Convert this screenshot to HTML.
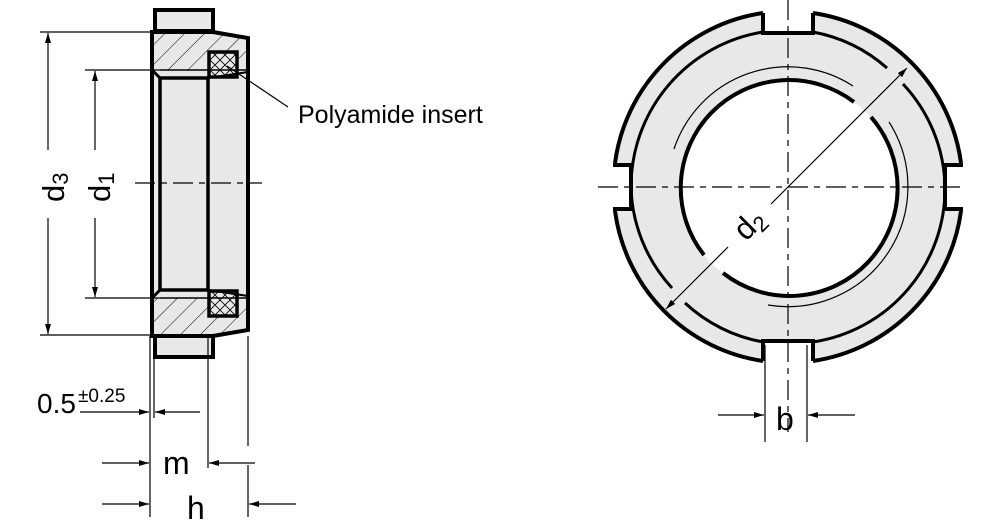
<!DOCTYPE html>
<html><head><meta charset="utf-8"><style>
html,body{margin:0;padding:0;background:#fff;}
svg{display:block;}
text{font-family:"Liberation Sans",Arial,sans-serif;fill:#000;}
</style></head><body>
<svg width="1002" height="530" viewBox="0 0 1002 530" xmlns="http://www.w3.org/2000/svg">
<defs>
<pattern id="h" patternUnits="userSpaceOnUse" width="14" height="14" patternTransform="rotate(45)">
<rect width="14" height="14" fill="#e8e8e8"/><line x1="0" y1="0" x2="0" y2="14" stroke="#000" stroke-width="1"/></pattern>
<pattern id="x" patternUnits="userSpaceOnUse" width="10" height="10">
<rect width="10" height="10" fill="#e8e8e8"/><path d="M0 0L10 10M10 0L0 10" stroke="#000" stroke-width="0.8"/></pattern>
<marker id="a" viewBox="0 0 10 6" refX="10" refY="3" markerWidth="12" markerHeight="6" orient="auto" markerUnits="userSpaceOnUse"><path d="M0 0L10 3L0 6z"/></marker>
</defs>

<!-- LEFT VIEW -->
<rect x="155" y="10" width="58" height="21" fill="#e8e8e8" stroke="#000" stroke-width="4"/>
<rect x="155" y="336" width="58" height="21" fill="#e8e8e8" stroke="#000" stroke-width="4"/>
<path d="M152 32H213L248 38V330L213 336H152Z" fill="#e8e8e8"/>
<path d="M152 32H213L248 38V70H152Z" fill="url(#h)"/>
<path d="M152 298H248V330L213 336H152Z" fill="url(#h)"/>
<rect x="160" y="78" width="48" height="212" fill="#e8e8e8"/>
<rect x="208" y="78" width="40" height="212" fill="#e8e8e8"/>
<rect x="209" y="52" width="28" height="25" fill="url(#x)" stroke="#000" stroke-width="3.5"/>
<rect x="209" y="291" width="28" height="25" fill="url(#x)" stroke="#000" stroke-width="3.5"/>
<path d="M152 32H213L248 38V330L213 336H152Z" fill="none" stroke="#000" stroke-width="4"/>
<path d="M160 78H208V290H160Z" fill="none" stroke="#000" stroke-width="3.5"/>
<path d="M152 70L160 78M152 298L160 290" stroke="#000" stroke-width="3"/>
<path d="M208 78L248 72M208 290L248 296" stroke="#000" stroke-width="2"/>
<path d="M208 78V290" stroke="#000" stroke-width="3"/>
<path d="M160 70H248M160 298H248" stroke="#000" stroke-width="1.5"/>
<path d="M135 183H262" stroke="#000" stroke-width="1.2" stroke-dasharray="20,6,6,6"/>
<path d="M227 66L288 107" stroke="#000" stroke-width="1.2"/>
<text x="298" y="123" font-size="25">Polyamide insert</text>
<path d="M40 32H152M40 335H152M85 70H160M85 298H160" stroke="#000" stroke-width="1.2"/>
<path d="M48 150V33" stroke="#000" stroke-width="1.2" marker-end="url(#a)"/>
<path d="M48 218V334" stroke="#000" stroke-width="1.2" marker-end="url(#a)"/>
<path d="M95 150V71" stroke="#000" stroke-width="1.2" marker-end="url(#a)"/>
<path d="M95 218V297" stroke="#000" stroke-width="1.2" marker-end="url(#a)"/>
<text transform="translate(64,202) rotate(-90)" font-size="31">d<tspan font-size="22" dy="4">3</tspan></text>
<text transform="translate(110,202) rotate(-90)" font-size="31">d<tspan font-size="22" dy="4">1</tspan></text>
<path d="M150 336V517M154 357V418M208 336V468M248 336V446M248 465V517" stroke="#000" stroke-width="1.2"/>
<path d="M80 412H149" stroke="#000" stroke-width="1.2" marker-end="url(#a)"/>
<path d="M200 412H155" stroke="#000" stroke-width="1.2" marker-end="url(#a)"/>
<text x="37" y="413" font-size="28">0.5</text>
<text x="78" y="402" font-size="19">±0.25</text>
<path d="M102 463H149" stroke="#000" stroke-width="1.2" marker-end="url(#a)"/>
<path d="M255 463H209" stroke="#000" stroke-width="1.2" marker-end="url(#a)"/>
<text x="163" y="474" font-size="32">m</text>
<path d="M102 504H149" stroke="#000" stroke-width="1.2" marker-end="url(#a)"/>
<path d="M296 504H249" stroke="#000" stroke-width="1.2" marker-end="url(#a)"/>
<text x="187" y="519" font-size="32">h</text>

<!-- RIGHT VIEW -->
<g transform="translate(788,187)">
<path fill-rule="evenodd" fill="#e8e8e8" d="M-25 -174A175 175 0 0 0 -173 -24H-157V24H-173A175 175 0 0 0 -25 174V153H25V174A175 175 0 0 0 173 24H157V-24H173A175 175 0 0 0 25 -174V-153H-25Z M108 0A108 108 0 1 0 -108 0A108 108 0 1 0 108 0Z"/>
<g fill="none" stroke="#000" stroke-width="4">
<path d="M-25 -174V-154H25V-174"/>
<path d="M-25 174V154H25V174"/>
<path d="M-173 -24V-22H-157V22H-173V24"/>
<path d="M173 -24V-22H157V22H173V24"/>
<path d="M-173 -24A175 175 0 0 1 -25 -174"/>
<path d="M25 -174A175 175 0 0 1 173 -24"/>
<path d="M173 24A175 175 0 0 1 25 174"/>
<path d="M-25 174A175 175 0 0 1 -173 24"/>
</g>
<g fill="none" stroke="#000" stroke-width="3">
<path d="M-157 0A157 157 0 0 1 -25 -155"/>
<path d="M25 -155A155 155 0 0 1 99 -119"/>
<path d="M115 -103A155 155 0 0 1 157 0"/>
<path d="M157 0A155 155 0 0 1 25 155"/>
<path d="M-25 155A155 155 0 0 1 -103 116"/>
<path d="M-116 101A155 155 0 0 1 -157 0"/>
</g>
<g fill="none" stroke="#000" stroke-width="4">
<path d="M-84 68A108 108 0 0 1 66 -85"/>
<path d="M83 -70A108 108 0 0 1 -65 86"/>
</g>
<g fill="none" stroke="#000" stroke-width="1.2">
<path d="M-114 -38A120 120 0 0 1 65 -101"/>
<path d="M101 -65A120 120 0 0 1 -20 118"/>
</g>
<path d="M-190 0H178" stroke="#000" stroke-width="1.2" stroke-dasharray="20,6,6,6"/>
<path d="M0 -187V245" stroke="#000" stroke-width="1.2" stroke-dasharray="20,6,6,6"/>
<path d="M-17 17L119 -119" stroke="#000" stroke-width="1.2" marker-end="url(#a)"/>
<path d="M-60 60L-122 122" stroke="#000" stroke-width="1.2" marker-end="url(#a)"/>
<text transform="translate(-42,55) rotate(-45)" font-size="31">d<tspan font-size="22" dy="5">2</tspan></text>
</g>
<path d="M765 345V442M807 345V442" stroke="#000" stroke-width="1.2"/>
<path d="M718 415H764" stroke="#000" stroke-width="1.2" marker-end="url(#a)"/>
<path d="M855 415H808" stroke="#000" stroke-width="1.2" marker-end="url(#a)"/>
<text x="776" y="430" font-size="32">b</text>
</svg>
</body></html>
